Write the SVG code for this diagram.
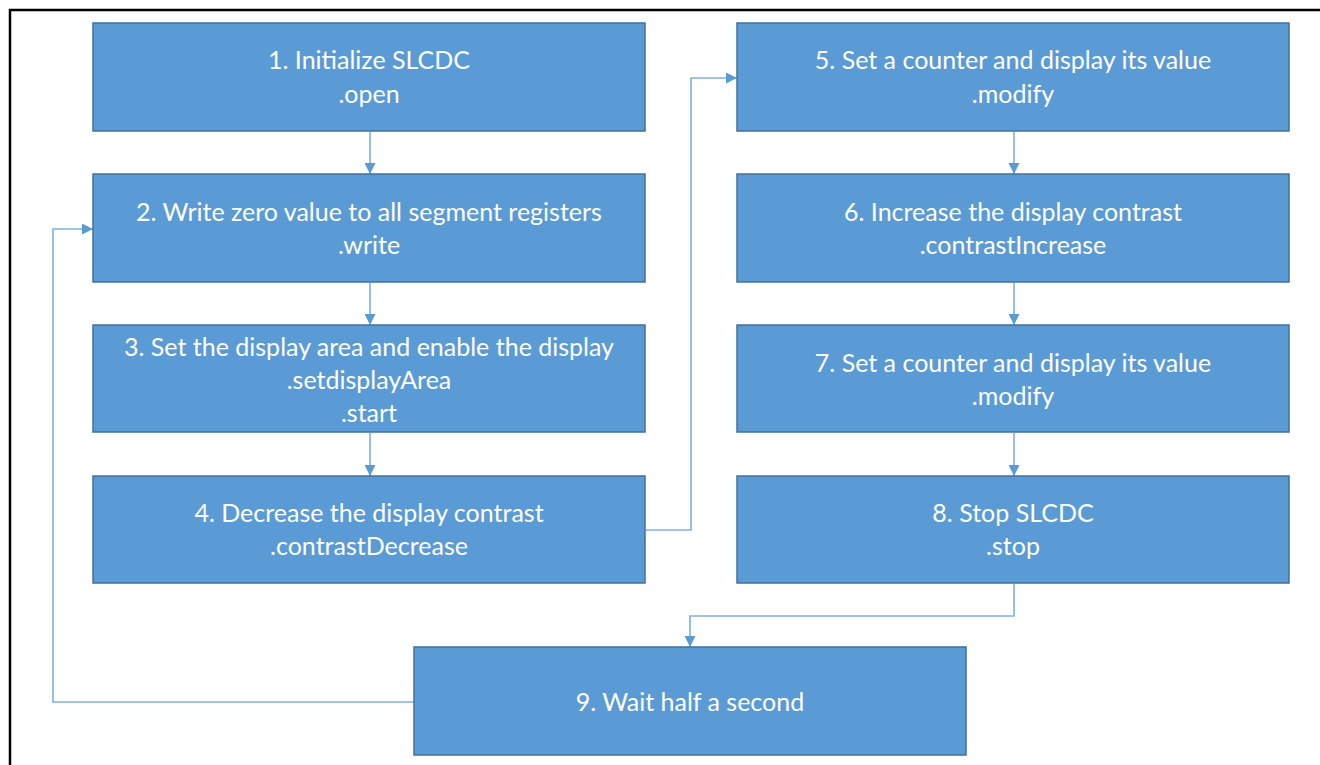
<svg xmlns="http://www.w3.org/2000/svg" width="1320" height="765" viewBox="0 0 1320 765">
  <defs>
    <style>
      .box { fill: #5B9BD5; stroke: #41719C; stroke-width: 1.5; }
      .lbl { font-family: Lato, "Open Sans", sans-serif; font-size: 25px; fill: #FFFFFF; text-anchor: middle; }
      .wire { fill: none; stroke: #7FB1DF; stroke-width: 1.6; }
      .frame { fill: none; stroke: #000000; stroke-width: 2.5; }
    </style>
    <marker id="arrow" viewBox="0 0 10 10" refX="10" refY="5" markerWidth="11" markerHeight="11" markerUnits="userSpaceOnUse" orient="auto">
      <path d="M0,0 L10,5 L0,10 Z" fill="#5B9BD5"/>
    </marker>
  </defs>

  <rect width="1320" height="765" fill="#FFFFFF"/>
  <polyline class="frame" points="10,765 10,10 1320,10"/>

  <g id="connectors">
    <line class="wire" x1="370" y1="132" x2="370" y2="174" marker-end="url(#arrow)"/>
    <line class="wire" x1="370" y1="283" x2="370" y2="325" marker-end="url(#arrow)"/>
    <line class="wire" x1="370" y1="433" x2="370" y2="476" marker-end="url(#arrow)"/>
    <polyline class="wire" points="646,530 691,530 691,78 737,78" marker-end="url(#arrow)"/>
    <line class="wire" x1="1014" y1="132" x2="1014" y2="174" marker-end="url(#arrow)"/>
    <line class="wire" x1="1014" y1="283" x2="1014" y2="325" marker-end="url(#arrow)"/>
    <line class="wire" x1="1014" y1="433" x2="1014" y2="476" marker-end="url(#arrow)"/>
    <polyline class="wire" points="1014,584 1014,616 690,616 690,647" marker-end="url(#arrow)"/>
    <polyline class="wire" points="414,702 53,702 53,229 93,229" marker-end="url(#arrow)"/>
  </g>

  <g id="step1">
    <rect class="box" x="93" y="23" width="552" height="108"/>
    <text class="lbl" x="369" y="69">1. Initialize SLCDC</text>
    <text class="lbl" x="369" y="103">.open</text>
  </g>
  <g id="step2">
    <rect class="box" x="93" y="174" width="552" height="108"/>
    <text class="lbl" x="369" y="221">2. Write zero value to all segment registers</text>
    <text class="lbl" x="369" y="254">.write</text>
  </g>
  <g id="step3">
    <rect class="box" x="93" y="325" width="552" height="107"/>
    <text class="lbl" x="369" y="356">3. Set the display area and enable the display</text>
    <text class="lbl" x="369" y="389">.setdisplayArea</text>
    <text class="lbl" x="369" y="422">.start</text>
  </g>
  <g id="step4">
    <rect class="box" x="93" y="476" width="552" height="107"/>
    <text class="lbl" x="369" y="522">4. Decrease the display contrast</text>
    <text class="lbl" x="369" y="555">.contrastDecrease</text>
  </g>
  <g id="step5">
    <rect class="box" x="737" y="23" width="552" height="108"/>
    <text class="lbl" x="1013" y="69">5. Set a counter and display its value</text>
    <text class="lbl" x="1013" y="103">.modify</text>
  </g>
  <g id="step6">
    <rect class="box" x="737" y="174" width="552" height="108"/>
    <text class="lbl" x="1013" y="221">6. Increase the display contrast</text>
    <text class="lbl" x="1013" y="254">.contrastIncrease</text>
  </g>
  <g id="step7">
    <rect class="box" x="737" y="325" width="552" height="107"/>
    <text class="lbl" x="1013" y="372">7. Set a counter and display its value</text>
    <text class="lbl" x="1013" y="405">.modify</text>
  </g>
  <g id="step8">
    <rect class="box" x="737" y="476" width="552" height="107"/>
    <text class="lbl" x="1013" y="522">8. Stop SLCDC</text>
    <text class="lbl" x="1013" y="555">.stop</text>
  </g>
  <g id="step9">
    <rect class="box" x="414" y="647" width="552" height="108"/>
    <text class="lbl" x="690" y="711">9. Wait half a second</text>
  </g>
</svg>
